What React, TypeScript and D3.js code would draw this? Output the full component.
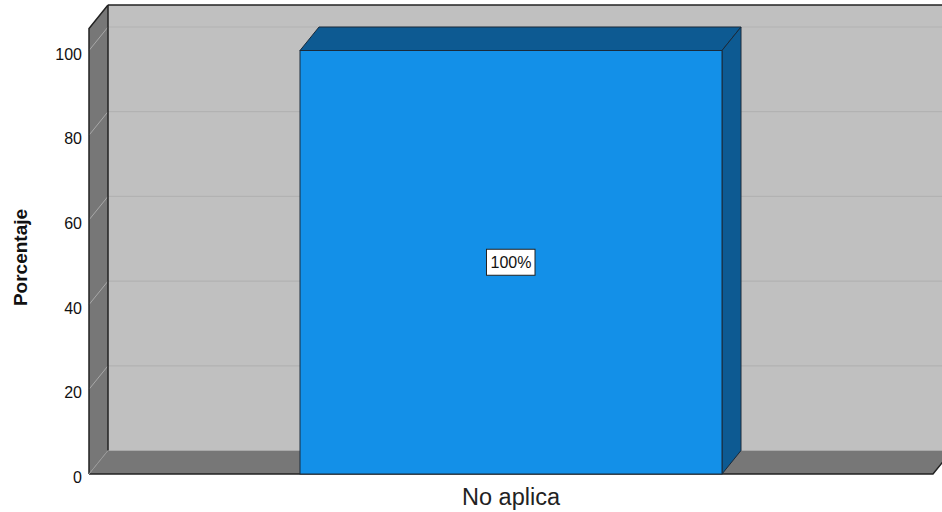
import React from "react";
import * as d3 from "d3";

// Chart data
const categories: string[] = ["No aplica"];
const percentages: number[] = [100];
const yTicks: number[] = [0, 20, 40, 60, 80, 100];
const barLabels: string[] = ["100%"];

const W = 942;
const H = 512;

export default function App() {
  // Oblique depth offset for the 3D box
  const dx = 19;
  const dy = -23.5;

  const x0 = 89;
  const x1 = 933;
  const y = d3.scaleLinear().domain([0, 100]).range([474, 50.5]);
  const x = d3
    .scaleBand<string>()
    .domain(categories)
    .range([x0, x1])
    .paddingInner(0)
    .paddingOuter(0.5);

  const yBase = y(0);
  const yTop = 5;
  const wallTop = yTop - dy;

  const fontFamily = "'Liberation Sans', Arial, sans-serif";

  return (
    <svg
      width={W}
      height={H}
      style={{ position: "absolute", left: 0, top: 0, background: "#fff" }}
      fontFamily={fontFamily}
    >
      {/* back wall */}
      <rect x={x0 + dx} y={yTop} width={W} height={yBase + dy - yTop} fill="#c0c0c0" />
      {/* left wall */}
      <polygon
        points={`${x0},${yBase} ${x0},${wallTop} ${x0 + dx},${yTop} ${x0 + dx},${yBase + dy}`}
        fill="#777777"
      />
      {/* floor */}
      <polygon
        points={`${x0},${yBase} ${x0 + dx},${yBase + dy} ${x1 + dx},${yBase + dy} ${x1},${yBase}`}
        fill="#777777"
      />
      {/* gridlines */}
      {yTicks
        .filter((t) => t > 0)
        .map((t) => (
          <g key={t}>
            <line
              x1={x0 + dx}
              x2={W}
              y1={y(t) + dy}
              y2={y(t) + dy}
              stroke="#b2b2b2"
              strokeWidth={1.2}
            />
            <line
              x1={x0}
              x2={x0 + dx}
              y1={y(t)}
              y2={y(t) + dy}
              stroke="#a8a8a8"
              strokeWidth={1}
            />
          </g>
        ))}
      {/* wall outlines */}
      <line x1={x0 + dx} x2={W} y1={yTop} y2={yTop} stroke="#222" strokeWidth={1.5} />
      <line x1={x0 + dx} x2={x0 + dx} y1={yTop} y2={yBase + dy} stroke="#222" strokeWidth={1.5} />
      <polyline
        points={`${x0},${yBase} ${x0},${wallTop} ${x0 + dx},${yTop}`}
        fill="none"
        stroke="#222"
        strokeWidth={1.5}
      />
      <polyline
        points={`${x0},${yBase} ${x1},${yBase} ${x1 + dx},${yBase + dy}`}
        fill="none"
        stroke="#222"
        strokeWidth={1.5}
      />
      <line x1={x0} x2={x0 + dx} y1={yBase} y2={yBase + dy} stroke="#999" strokeWidth={1} />

      {/* bars */}
      {categories.map((c, i) => {
        const bx = x(c) as number;
        const bw = x.bandwidth();
        const by = y(percentages[i]);
        return (
          <g key={c}>
            {/* top face */}
            <polygon
              points={`${bx},${by} ${bx + dx},${by + dy} ${bx + bw + dx},${by + dy} ${bx + bw},${by}`}
              fill="#0d5a92"
              stroke="#1a2a3a"
              strokeWidth={1}
            />
            {/* side face */}
            <polygon
              points={`${bx + bw},${by} ${bx + bw + dx},${by + dy} ${bx + bw + dx},${yBase + dy} ${bx + bw},${yBase}`}
              fill="#0d5a92"
              stroke="#1a2a3a"
              strokeWidth={1}
            />
            {/* front face */}
            <rect
              x={bx}
              y={by}
              width={bw}
              height={yBase - by}
              fill="#1390e8"
              stroke="#1a2a3a"
              strokeWidth={1}
            />
            {/* value label */}
            <g transform={`translate(${bx + bw / 2},${y(percentages[i] / 2)})`}>
              <rect x={-24.5} y={-13} width={48.5} height={26} fill="#fff" stroke="#222" strokeWidth={1} />
              <text textAnchor="middle" y={6} fontSize={16} fill="#111">
                {barLabels[i]}
              </text>
            </g>
            {/* category label */}
            <text
              x={bx + bw / 2}
              y={505}
              textAnchor="middle"
              fontSize={23.5}
              fill="#222"
            >
              {c}
            </text>
          </g>
        );
      })}

      {/* y tick labels */}
      {yTicks.map((t) => (
        <text
          key={t}
          x={82}
          y={y(t) + 9}
          textAnchor="end"
          fontSize={16}
          fill="#111"
        >
          {t}
        </text>
      ))}

      {/* y axis title */}
      <text
        transform={`translate(26.5,${257.5}) rotate(-90)`}
        textAnchor="middle"
        fontSize={19}
        fontWeight="bold"
        fill="#111"
      >
        Porcentaje
      </text>
    </svg>
  );
}
